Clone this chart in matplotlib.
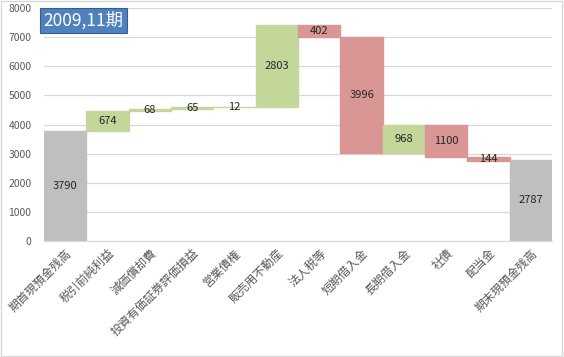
import matplotlib.pyplot as plt
import numpy as np

plt.rcParams['font.family'] = ['Noto Sans CJK JP', 'DejaVu Sans']

labels = ["期首現預金残高", "税引前純利益", "減価償却費", "投資有価証券評価損益",
          "営業債権", "販売用不動産", "法人税等", "短期借入金", "長期借入金",
          "社債", "配当金", "期末現預金残高"]
changes = [3790, 674, 68, 65, 12, 2803, -402, -3996, 968, -1100, -144, 2787]
kinds = ["total", "up", "up", "up", "up", "up", "down", "down", "up", "down", "down", "total"]

colors = {"total": "#BFBFBF", "up": "#C4D79B", "down": "#DA9694"}

fig = plt.figure(figsize=(5.64, 3.57), dpi=100)
ax = fig.add_axes([0.078, 0.325, 0.901, 0.652])

x = np.arange(len(labels))
running = 0
for i, (v, k) in enumerate(zip(changes, kinds)):
    if k == "total":
        bottom, h = 0, v
        running = v
    elif k == "up":
        bottom, h = running, v
        running += v
    else:
        bottom, h = running + v, -v
        running += v
    ax.bar(i, h, bottom=bottom, width=1.0, color=colors[k],
           edgecolor=colors[k], linewidth=1.0, zorder=2)
    ax.text(i, bottom + h / 2, str(abs(v)), ha="center", va="center",
            fontsize=8, color="#262626", zorder=3)

ax.set_xlim(-0.5, len(labels) - 0.5)
ax.set_ylim(0, 8000)
ax.set_yticks(range(0, 8001, 1000))
ax.yaxis.grid(True, color="#D9D9D9", linewidth=0.9, zorder=0)
ax.set_axisbelow(True)
for s in ["top", "right", "left"]:
    ax.spines[s].set_visible(False)
ax.spines["bottom"].set_color("#D9D9D9")
ax.tick_params(axis="y", length=0, labelsize=7.5, colors="#595959", pad=9)
ax.tick_params(axis="x", length=0, labelsize=8.5, colors="#595959", pad=4)
ax.set_xticks(x)
ax.set_xticklabels(labels, rotation=45, ha="right", rotation_mode="anchor")

fig.text(0.077, 0.943, "2009,11期", fontsize=12.5, color="white", va="center", ha="left",
         bbox=dict(boxstyle="square,pad=0.2", facecolor="#4F81BD", edgecolor="#385D8A", linewidth=0.8))

border = plt.Rectangle((0.002, 0.003), 0.995, 0.993, transform=fig.transFigure,
                       fill=False, edgecolor="#D9D9D9", linewidth=1)
fig.patches.append(border)

fig.savefig("out.png", dpi=100)
